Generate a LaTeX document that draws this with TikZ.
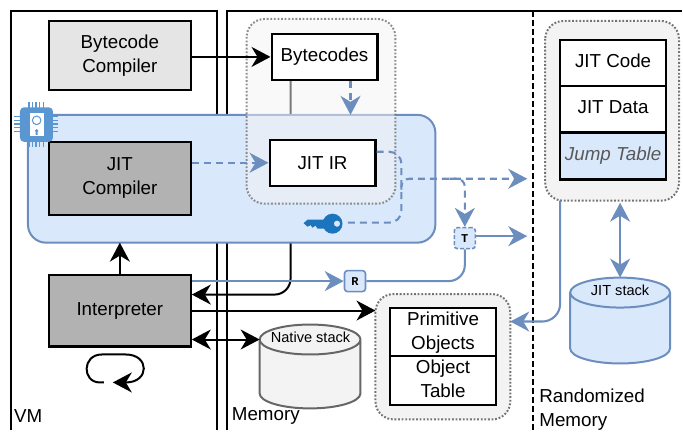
\documentclass[tikz,border=0pt]{standalone}
\usepackage{fontspec}
\setmainfont{Liberation Sans}
\newfontfamily\guardfont{Liberation Mono}
\usepackage{tikz}
\usetikzlibrary{arrows.meta,backgrounds}
\definecolor{jitblue}{HTML}{DAE8FC}
\definecolor{lineblue}{HTML}{6C8EBF}
\definecolor{chipblue}{HTML}{5A96D2}
\definecolor{keyblue}{HTML}{1C75BC}
\definecolor{softgray}{HTML}{F3F3F3}
\begin{document}
\begin{tikzpicture}[
x=1pt,y=-1pt,
font=\fontsize{18.8}{24}\selectfont,
tip/.style={-{Stealth[length=19pt,width=20pt,inset=6pt]}},
twotip/.style={{Stealth[length=19pt,width=20pt,inset=6pt]}-{Stealth[length=19pt,width=20pt,inset=6pt]}},
block/.style={draw,fill=white,line width=2.2pt,align=center,inner sep=0pt,minimum width=#1},
block/.default=106pt,
darkblock/.style={block=142pt,fill=black!30,minimum height=72pt},
cell/.style={block=106pt,minimum height=46.5pt,text height=13.5pt,text depth=4.5pt},
group/.style={draw=black!55,fill=softgray,line width=2pt,dash pattern=on 1.8pt off 1.8pt,rounded corners=18pt},
black link/.style={line width=2pt,rounded corners=16pt},
blue link/.style={draw=lineblue,line width=2.1pt,rounded corners=12pt},
blue dash/.style={blue link,dash pattern=on 7pt off 5pt},
guard/.style={draw=lineblue,fill=jitblue,line width=1.6pt,rounded corners=3pt,minimum size=21pt,inner sep=0pt,font=\fontsize{12}{12}\selectfont\guardfont\bfseries}
]
    % Draw boxes
    \node [block=142pt,fill=black!10,minimum height=69pt] (bcompiler) at (120,55.5) {Bytecode\\Compiler};
    \node [darkblock,minimum height=73pt] (jcompiler) at (120,178.5) {JIT\\Compiler};
    \node [darkblock] (interp) at (120,311) {Interpreter};
    \node [block,minimum height=46pt] (bytecodes) at (325,57) {Bytecodes};
    \node [block,minimum height=46pt] (jitir) at (323,163) {JIT IR};

    % Memory groups
    \draw [group] (376,294.5) rectangle (511,420);
    \coordinate (primgroup) at (511,322);
    \coordinate (primleft) at (376,311);
    \node [block,minimum height=48.5pt] (prim) at (443.7,332.7) {\raisebox{-1pt}{Primitive}\\\raisebox{-1pt}{Objects}};
    \node [block,minimum height=48.5pt] (objtable) at (443.7,381) {\raisebox{3pt}{Object}\\\raisebox{3pt}{Table}};
    \draw [group] (546,21) rectangle (680,201);
    \coordinate (randbottom) at (561,201);
    \coordinate (randstack) at (621,203);
    \node [cell] (jitcode) at (614,63) {JIT Code};
    \node [cell] (jitdata) at (614,109.5) {JIT Data};
    \node [cell,fill=jitblue,text=black!65,font=\fontsize{18.8}{24}\selectfont\itshape] (jump) at (614,156.5) {Jump Table};

    % Draw stacks
    \draw [draw=black!60,fill=softgray,line width=2pt] (260,340) -- (260,394)
        arc [start angle=180,end angle=360,x radius=50.5pt,y radius=15pt]
        -- (361,340) arc [start angle=0,end angle=180,x radius=50.5pt,y radius=15pt] -- cycle
        (260,340) arc [start angle=180,end angle=360,x radius=50.5pt,y radius=15pt];
    \coordinate (natleft) at (260,340);
    \node [font=\fontsize{14.6}{16}\selectfont,inner sep=0pt] (natlabel) at (311,338) {Native stack};
    \draw [draw=lineblue,fill=jitblue,line width=2pt] (571,293) -- (571,349)
        arc [start angle=180,end angle=360,x radius=50pt,y radius=15pt]
        -- (671,293) arc [start angle=0,end angle=180,x radius=50pt,y radius=15pt] -- cycle
        (571,293) arc [start angle=180,end angle=360,x radius=50pt,y radius=15pt];
    \coordinate (jittop) at (621,278);
    \node [font=\fontsize{14.6}{16}\selectfont,inner sep=0pt] (jitlabel) at (621,291) {JIT stack};

    % Frames and the JIT region sit behind the boxes
    \begin{pgfonlayer}{background}
        \draw [line width=2pt] (11,431) |- (217,11) -- (217,431);
        \draw [line width=2pt] (227,431) |- (683,11);
        \draw [line width=2pt,dash pattern=on 6pt off 3pt] (533.5,11) -- (533.5,431);
        \draw [black link,tip] (bytecodes.south -| 291,0) -- (291,295) -- (interp.east |- 0,295);
        \draw [draw=lineblue,fill=jitblue,line width=2pt,rounded corners=18pt] (28,115) rectangle (436,243);
        \draw [group,fill opacity=.5,draw opacity=.8] (247,19) rectangle (396,204);
    \end{pgfonlayer}

    % Chip in the corner
    \foreach \k in {0,1,2,3,4} {
        \draw [chipblue,line width=1.3pt] (29+3.6*\k,102) -- (29+3.6*\k,147);
        \draw [chipblue,line width=1.3pt] (14.5,117+3.6*\k) -- (58.5,117+3.6*\k);
    }
    \fill [chipblue,rounded corners=4pt] (20,107.5) rectangle (53,142);
    \fill [white] (30,113) rectangle (44,136);
    \draw [chipblue,line width=1pt] (36.7,120.5) circle (4.3pt);
    \fill [chipblue] (36.7,131) circle (1.8pt) (35.8,131) rectangle (37.6,135);

    % Key
    \fill [keyblue,even odd rule] (333,224) circle (10pt) (337.5,224) circle (3.2pt);
    \fill [keyblue] (326,220) -- (308,220) -- (304,223.5) -- (308,227) -- (311,225.5) -- (313,228) -- (316,226) -- (318,229) -- (326,229) -- cycle;
    \coordinate (keyend) at (348,223);

    % Guards
    \node [guard,dash pattern=on 4pt off 2pt] (tguard) at (465.5,238.5) {T};
    \node [guard] (rguard) at (355.5,281.5) {R};
    \coordinate (tend) at (528,236.5);
    \coordinate (jitend) at (528,179);
    \coordinate (turn) at (402,190);

    % Black links
    \draw [black link,tip] (bcompiler.east |- bytecodes) -- (bytecodes);
    \draw [black link,tip] (interp.north) -- (interp.north |- 0,243);
    \draw [black link,tip] (interp.east |- primleft) -- (primleft);
    \draw [black link,twotip] (interp.east |- natleft) -- (natleft);
    \draw [line width=2pt,tip] (104,383) -- (100,383) .. controls (82,383) and (82,355) .. (102,355) -- (126,355) .. controls (150,355) and (150,383) .. (126,383) -- (113,383);

    % Blue links
    \draw [blue dash,tip] (jcompiler.east |- jitir) -- (jitir);
    \draw [blue dash,tip] (bytecodes.south -| 351,0) -- (351,115);
    \draw [blue dash] (jitir.east |- 0,152) -- (402,152) -- (402,223) -- (keyend);
    \draw [blue dash,tip,rounded corners=8pt] (turn) -- (402,179) -- (jitend);
    \draw [blue dash,tip,rounded corners=8pt] (450,179) -- (465.5,179) -- (tguard.north);
    \draw [blue link,tip] (tguard.east |- tend) -- (tend);
    \draw [blue link,tip] (interp.east |- rguard) -- (rguard);
    \draw [blue link,rounded corners=16pt] (rguard) -- (465.5,281.5) -- (tguard.south);
    \draw [blue link,tip,rounded corners=18pt] (randbottom) -- (561,322) -- (primgroup);
    \draw [blue link,twotip] (randstack) -- (jittop);

    % Labels
    \node [anchor=west,inner sep=0pt] (vmlabel) at (14,417) {VM};
    \node [anchor=west,inner sep=0pt] (memlabel) at (232,417) {Memory};
    \node [anchor=north west,inner sep=0pt,align=left] (randlabel) at (540,389) {Randomized\\Memory};
    \useasboundingbox (0,0) rectangle (683,431);
\end{tikzpicture}
\end{document}
